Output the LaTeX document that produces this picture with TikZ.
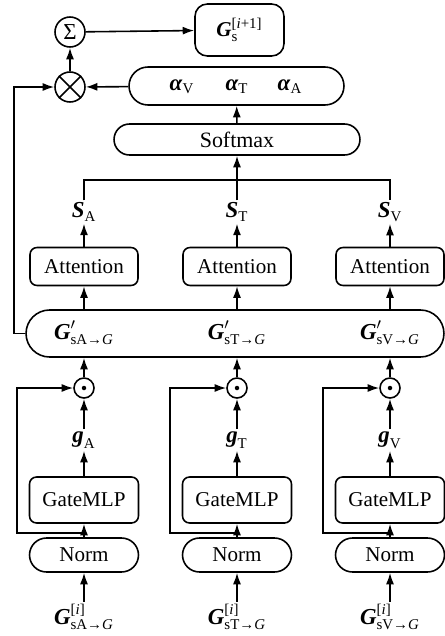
\documentclass[tikz,border=0pt]{standalone}
\usepackage{fontspec}
\setmainfont{Liberation Serif}
\usetikzlibrary{arrows.meta,positioning,calc,shapes.misc}
\newcommand{\bv}[1]{\textbf{\textit{#1}}}
\newcommand{\scr}[1]{\mbox{\fontsize{8.5}{8.5}\selectfont #1}}
\newcommand{\symsb}[2]{$\mbox{\bv{#1}}_{\scr{#2}}$}
\newcommand{\symss}[3]{$\mbox{\bv{#1}}^{\scr{#2}}_{\scr{#3}}$}
\newcommand{\sympr}[2]{$\mbox{\bv{#1}}'_{\scr{#2}}$}
\tikzset{
  block/.style={draw,rounded corners=4pt,minimum width=2.16cm,minimum height=.76cm,
    inner sep=0pt,font=\fontsize{12}{14}\selectfont},
  pill/.style={draw,rounded rectangle,inner sep=0pt,font=\fontsize{12}{14}\selectfont},
  opnode/.style={draw,circle,inner sep=0pt,minimum size=.6cm,font=\fontsize{13}{14}\selectfont},
  tag/.style={inner sep=1pt,font=\fontsize{13}{15}\selectfont},
  arrow/.style={-{Latex[length=2.3mm,width=1.6mm]},line width=.9pt}
}
\begin{document}
\begin{tikzpicture}[x=.02cm,y=-.02cm,line width=.9pt]
  \useasboundingbox (0,0) rectangle (445,636);
  \node[opnode] (sum) at (70,32) {Σ};
  \node[block,minimum width=1.78cm,minimum height=1.04cm,rounded corners=7pt] (out) at (239.5,30)
    {\symss{G}{[\textit{i}+1]}{s}};
  \node[opnode] (mul) at (70,87) {};
  \draw (mul.45)--(mul.225) (mul.135)--(mul.315);
  \node[pill,minimum width=4.3cm,minimum height=.76cm] (alpha) at (236.5,86) {};
  \node[tag] (alV) at (182,87) {\symsb{α}{V}};
  \node[tag] (alT) at (237,87) {\symsb{α}{T}};
  \node[tag] (alA) at (290,87) {\symsb{α}{A}};
  \node[pill,minimum width=4.92cm,minimum height=.62cm,font=\fontsize{12.5}{14}\selectfont] (soft) at (237,139.5) {Softmax};
  \coordinate (bus) at (237,180);
  \node[pill,minimum width=8.36cm,minimum height=.94cm] (gp) at (235,333.5) {};
  \foreach \m/\x in {A/84,T/237,V/390}{
    \node[tag] (S\m) at (\x,212) {\symsb{S}{\m}};
    \node[block] (att\m) at (\x,266.5) {Attention};
    \node[tag] (gp\m) at (\x,333) {\sympr{G}{s\m→\textit{G}}};
    \node[opnode,minimum size=.4cm] (dot\m) at (\x,388) {};
    \fill (dot\m) circle (.045cm);
    \node[tag] (g\m) at (\x,440) {\symsb{g}{\m}};
    \node[block,minimum width=2.18cm,minimum height=.92cm] (mlp\m) at (\x,500) {GateMLP};
    \node[pill,minimum width=2.18cm,minimum height=.68cm] (norm\m) at (\x,555) {Norm};
    \node[tag] (in\m) at (\x,617) {\symss{G}{[\textit{i}]}{s\m→\textit{G}}};
    \coordinate (br\m) at (\x,533);
    \draw[arrow] (in\m) -- (norm\m);
    \draw[arrow] (norm\m) -- (mlp\m);
    \draw[arrow] (br\m) -- ++(-67,0) |- (dot\m);
    \draw[arrow] (mlp\m) -- (g\m);
    \draw[arrow] (g\m) -- (dot\m);
    \draw[arrow] (dot\m) -- (dot\m |- gp.south);
    \draw[arrow] (att\m |- gp.north) -- (att\m);
    \draw[arrow] (att\m) -- (S\m);
  }
  \draw (SA.north) |- (bus) -| (SV.north);
  \draw (ST.north) -- (bus);
  \draw[arrow] (bus) -- (soft);
  \draw[arrow] (soft) -- (alpha);
  \draw[arrow] (alpha) -- (mul);
  \draw[arrow] (mul) -- (sum);
  \draw[arrow] (sum) -- (out);
  \draw[arrow] (gp.west) -- ++(-11,0) |- (mul);
\end{tikzpicture}
\end{document}
